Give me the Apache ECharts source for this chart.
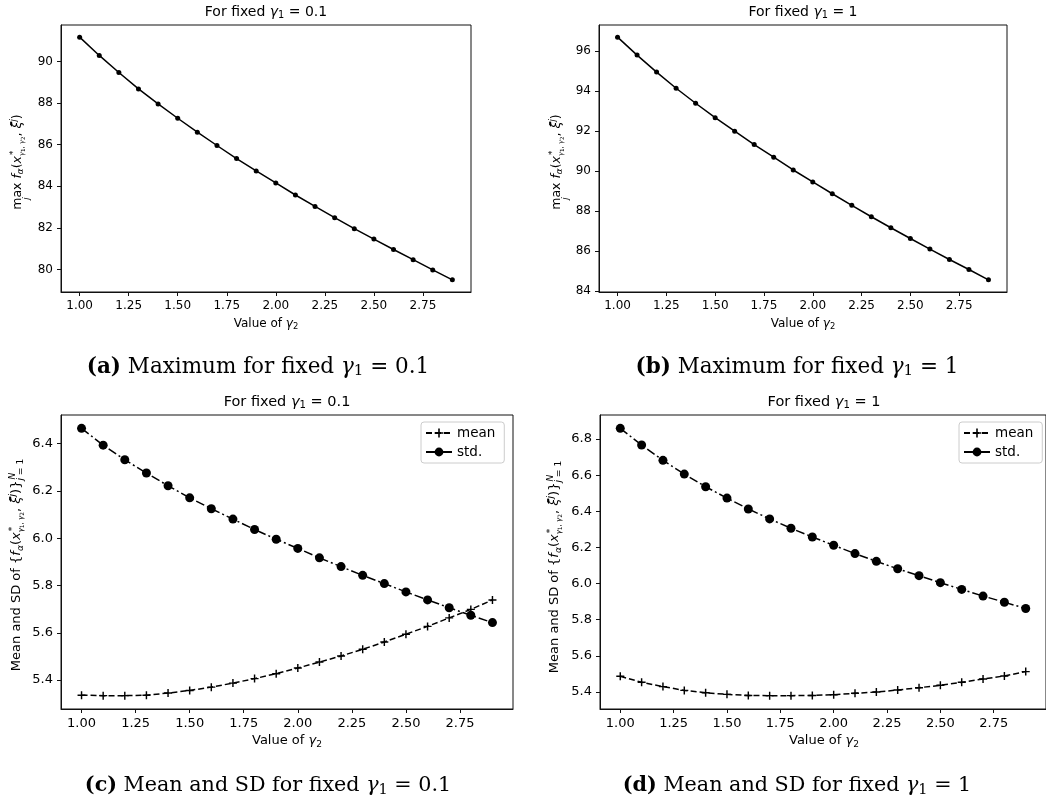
<!DOCTYPE html>
<html>
<head>
<meta charset="utf-8">
<script src="https://cdn.jsdelivr.net/npm/echarts@6/dist/echarts.min.js"></script>
<style>html,body{margin:0;padding:0;background:#fff}#main{width:1046px;height:809px}</style>
</head>
<body>
<div id="main"></div>
<script>
// values of gamma_2 on the x axis
var gamma2 = [1.0, 1.1, 1.2, 1.3, 1.4, 1.5, 1.6, 1.7, 1.8, 1.9, 2.0, 2.1, 2.2, 2.3, 2.4, 2.5, 2.6, 2.7, 2.8, 2.9];
// (a) / (b) maximum
var maxG01 = [91.17, 90.29, 89.47, 88.68, 87.96, 87.27, 86.60, 85.96, 85.33, 84.74, 84.16, 83.58, 83.03, 82.49, 81.96, 81.46, 80.96, 80.47, 79.98, 79.50];
var maxG1 = [96.70, 95.80, 94.95, 94.14, 93.39, 92.67, 91.99, 91.32, 90.69, 90.05, 89.45, 88.86, 88.28, 87.71, 87.16, 86.62, 86.09, 85.57, 85.07, 84.55];
// (c) / (d) mean and std
var meanG01 = [5.336, 5.334, 5.334, 5.336, 5.345, 5.356, 5.370, 5.387, 5.406, 5.427, 5.451, 5.476, 5.502, 5.530, 5.561, 5.594, 5.627, 5.663, 5.699, 5.739];
var stdG01 = [6.465, 6.394, 6.332, 6.276, 6.222, 6.171, 6.125, 6.081, 6.037, 5.996, 5.957, 5.917, 5.880, 5.843, 5.808, 5.773, 5.739, 5.706, 5.674, 5.643];
var meanG1 = [5.487, 5.454, 5.430, 5.409, 5.396, 5.387, 5.381, 5.380, 5.380, 5.381, 5.385, 5.393, 5.400, 5.411, 5.424, 5.437, 5.454, 5.472, 5.489, 5.513];
var stdG1 = [6.859, 6.767, 6.682, 6.606, 6.536, 6.473, 6.413, 6.358, 6.306, 6.258, 6.212, 6.166, 6.123, 6.082, 6.044, 6.005, 5.968, 5.931, 5.897, 5.862];
// tick labels
var xTicks = [1.00, 1.25, 1.50, 1.75, 2.00, 2.25, 2.50, 2.75];
var yTicksA = [80, 82, 84, 86, 88, 90];
var yTicksB = [84, 86, 88, 90, 92, 94, 96];
var yTicksC = [5.4, 5.6, 5.8, 6.0, 6.2, 6.4];
var yTicksD = [5.4, 5.6, 5.8, 6.0, 6.2, 6.4, 6.6, 6.8];

var SANS = '"DejaVu Sans"';
var SERIF = '"DejaVu Serif"';
var plusPath = 'path://M4.1,0H5.9V10H4.1Z M0,4.1H10V5.9H0Z';

var myChart = echarts.init(document.getElementById('main'));

// matplotlib style 5% margins
function pad(arr) {
    var lo = Math.min.apply(null, arr), hi = Math.max.apply(null, arr);
    var d = (hi - lo) * 0.05;
    return [lo - d, hi + d];
}
function pairs(ys) {
    return gamma2.map(function (x, i) { return [x, ys[i]]; });
}

// small helper to lay out math-like text from pieces
var measureCtx = document.createElement('canvas').getContext('2d');
function P(t, o) {
    o = o || {};
    return { t: t, size: o.size || 11, italic: !!o.i, bold: !!o.b, family: o.f || SANS,
             dy: o.dy || 0, dx: o.dx || 0, adv: o.adv !== false };
}
function fontOf(p) {
    return (p.italic ? 'italic ' : '') + (p.bold ? 'bold ' : '') + p.size + 'px ' + p.family;
}
function mathText(cx, cy, rot, parts) {
    var x = 0, items = [];
    parts.forEach(function (p) {
        measureCtx.font = fontOf(p);
        var w = measureCtx.measureText(p.t).width;
        items.push({ p: p, x: x + p.dx });
        if (p.adv) x += w;
    });
    var total = x;
    return {
        type: 'group', x: cx, y: cy, rotation: rot, silent: true,
        children: items.map(function (it) {
            return {
                type: 'text', x: it.x - total / 2, y: it.p.dy,
                style: { text: it.p.t, font: fontOf(it.p), fill: '#000',
                         align: 'left', verticalAlign: 'middle',
                         textAlign: 'left', textVerticalAlign: 'middle' }
            };
        })
    };
}

function titleParts(v, s) {
    return [P('For fixed ', { size: s }), P('\u03b3', { size: s, i: 1 }), P('1', { size: s * 0.7, dy: s * 0.25 }), P(' = ' + v, { size: s })];
}
function xNameParts(s) {
    return [P('Value of ', { size: s }), P('\u03b3', { size: s, i: 1 }), P('2', { size: s * 0.7, dy: s * 0.25 })];
}
function fParts(s) {
    var sub = s * 0.7, sub2 = s * 0.55, sub3 = s * 0.45;
    return [
        P('f', { size: s, i: 1 }), P('\u03b1', { size: sub, i: 1, dy: s * 0.25 }), P('(', { size: s }), P('x', { size: s, i: 1 }),
        P('*', { size: sub, dy: -s * 0.35, adv: false, dx: 1 }),
        P('\u03b3', { size: sub2, i: 1, dy: s * 0.35 }), P('1', { size: sub3, dy: s * 0.45 }), P(', ', { size: sub2, dy: s * 0.35 }),
        P('\u03b3', { size: sub2, i: 1, dy: s * 0.35 }), P('2', { size: sub3, dy: s * 0.45 }),
        P(', ', { size: s }), P('\u03be\u0304', { size: s, i: 1 }), P('j', { size: sub, i: 1, dy: -s * 0.35 }), P(')', { size: s })
    ];
}
function maxLabel(s) {
    return [P('j', { size: s * 0.7, i: 1, dy: s * 0.7, dx: s * 0.8, adv: false }), P('max ', { size: s })].concat(fParts(s));
}
function meanLabel(s) {
    return [P('Mean and SD of {', { size: s })].concat(fParts(s), [
        P('}', { size: s }), P('N', { size: s * 0.7, i: 1, dy: -s * 0.35, adv: false, dx: 1 }),
        P('j', { size: s * 0.7, i: 1, dy: s * 0.3 }), P(' = 1', { size: s * 0.7, dy: s * 0.3 })
    ]);
}
function caption(letter, text, v, s) {
    return [P('(' + letter + ')', { size: s, b: 1, f: SERIF }), P(' ' + text + ' for fixed ', { size: s, f: SERIF }),
            P('\u03b3', { size: s, i: 1, f: SERIF }), P('1', { size: s * 0.7, f: SERIF, dy: 4 }),
            P(' = ' + v, { size: s, f: SERIF })];
}

var grids = [
    { left: 61, top: 25, width: 410, height: 267 },
    { left: 599, top: 25, width: 408, height: 267 },
    { left: 61, top: 415, width: 452, height: 294 },
    { left: 600, top: 415, width: 449, height: 294 }
];
grids.forEach(function (g) { g.show = true; g.borderColor = '#111'; g.borderWidth = 1; g.backgroundColor = '#fff'; });

var xr = pad(gamma2);
var yRanges = [pad(maxG01), pad(maxG1), pad(meanG01.concat(stdG01)), pad(meanG1.concat(stdG1))];
var yTickSets = [yTicksA, yTicksB, yTicksC, yTicksD];
var yDigits = [0, 0, 1, 1];
var tickFont = [12, 12, 13, 13];

var xAxes = grids.map(function (g, i) {
    return {
        type: 'value', gridIndex: i, min: xr[0], max: xr[1],
        axisLine: { show: true, lineStyle: { color: '#111', width: 1 } },
        axisTick: { show: true, length: 4, customValues: xTicks, lineStyle: { color: '#111' } },
        axisLabel: { customValues: xTicks, margin: 8, fontFamily: SANS, fontSize: tickFont[i], color: '#000',
                     formatter: function (v) { return v.toFixed(2); } },
        splitLine: { show: false }
    };
});
var yAxes = grids.map(function (g, i) {
    return {
        type: 'value', gridIndex: i, min: yRanges[i][0], max: yRanges[i][1],
        axisLine: { show: true, lineStyle: { color: '#111', width: 1 } },
        axisTick: { show: true, length: 4, customValues: yTickSets[i], lineStyle: { color: '#111' } },
        axisLabel: { customValues: yTickSets[i], margin: 8, fontFamily: SANS, fontSize: tickFont[i], color: '#000',
                     formatter: function (v) { return v.toFixed(yDigits[i]); } },
        splitLine: { show: false }
    };
});

function maxSeries(idx, ys) {
    return {
        type: 'line', xAxisIndex: idx, yAxisIndex: idx, data: pairs(ys),
        symbol: 'circle', symbolSize: 5, color: '#000',
        lineStyle: { color: '#000', width: 1.5 }, itemStyle: { color: '#000' }
    };
}
function meanSeries(idx, ys) {
    return {
        name: 'mean', type: 'line', xAxisIndex: idx, yAxisIndex: idx, data: pairs(ys),
        symbol: plusPath, symbolSize: 8, color: '#000',
        lineStyle: { color: '#000', width: 1.5, type: [6, 3] }, itemStyle: { color: '#000' }
    };
}
function stdSeries(idx, ys) {
    return {
        name: 'std.', type: 'line', xAxisIndex: idx, yAxisIndex: idx, data: pairs(ys),
        symbol: 'circle', symbolSize: 9, color: '#000',
        lineStyle: { color: '#000', width: 1.5, type: [9, 3, 2, 3] }, itemStyle: { color: '#000' }
    };
}

function legendAt(left) {
    return {
        data: ['mean', 'std.'], orient: 'vertical', left: left, top: 422,
        itemWidth: 26, itemHeight: 11, itemGap: 5, padding: [4, 9, 4, 4],
        borderColor: '#ccc', borderWidth: 1, borderRadius: 3, backgroundColor: 'rgba(255,255,255,0.8)',
        textStyle: { fontFamily: SANS, fontSize: 13.5, color: '#000' }, selectedMode: false
    };
}

var graphics = [
    mathText(266, 12, 0, titleParts('0.1', 14)),
    mathText(803, 12, 0, titleParts('1', 14)),
    mathText(287, 402, 0, titleParts('0.1', 14.5)),
    mathText(824, 402, 0, titleParts('1', 14.5)),
    mathText(266, 324, 0, xNameParts(12)),
    mathText(803, 324, 0, xNameParts(12)),
    mathText(287, 741, 0, xNameParts(13)),
    mathText(824, 741, 0, xNameParts(13)),
    mathText(18, 162, Math.PI / 2, maxLabel(12.5)),
    mathText(557, 162, Math.PI / 2, maxLabel(12.5)),
    mathText(17, 565, Math.PI / 2, meanLabel(13)),
    mathText(555, 567, Math.PI / 2, meanLabel(13)),
    mathText(258, 367, 0, caption('a', 'Maximum', '0.1', 21.5)),
    mathText(797, 367, 0, caption('b', 'Maximum', '1', 21.5)),
    mathText(268, 786, 0, caption('c', 'Mean and SD', '0.1', 20.7)),
    mathText(797, 786, 0, caption('d', 'Mean and SD', '1', 20.7))
];

var option = {
    backgroundColor: '#fff',
    animation: false,
    grid: grids,
    xAxis: xAxes,
    yAxis: yAxes,
    legend: [legendAt(421), legendAt(959)],
    series: [
        maxSeries(0, maxG01),
        maxSeries(1, maxG1),
        meanSeries(2, meanG01),
        stdSeries(2, stdG01),
        meanSeries(3, meanG1),
        stdSeries(3, stdG1)
    ],
    graphic: graphics
};
myChart.setOption(option);
</script>
</body>
</html>
